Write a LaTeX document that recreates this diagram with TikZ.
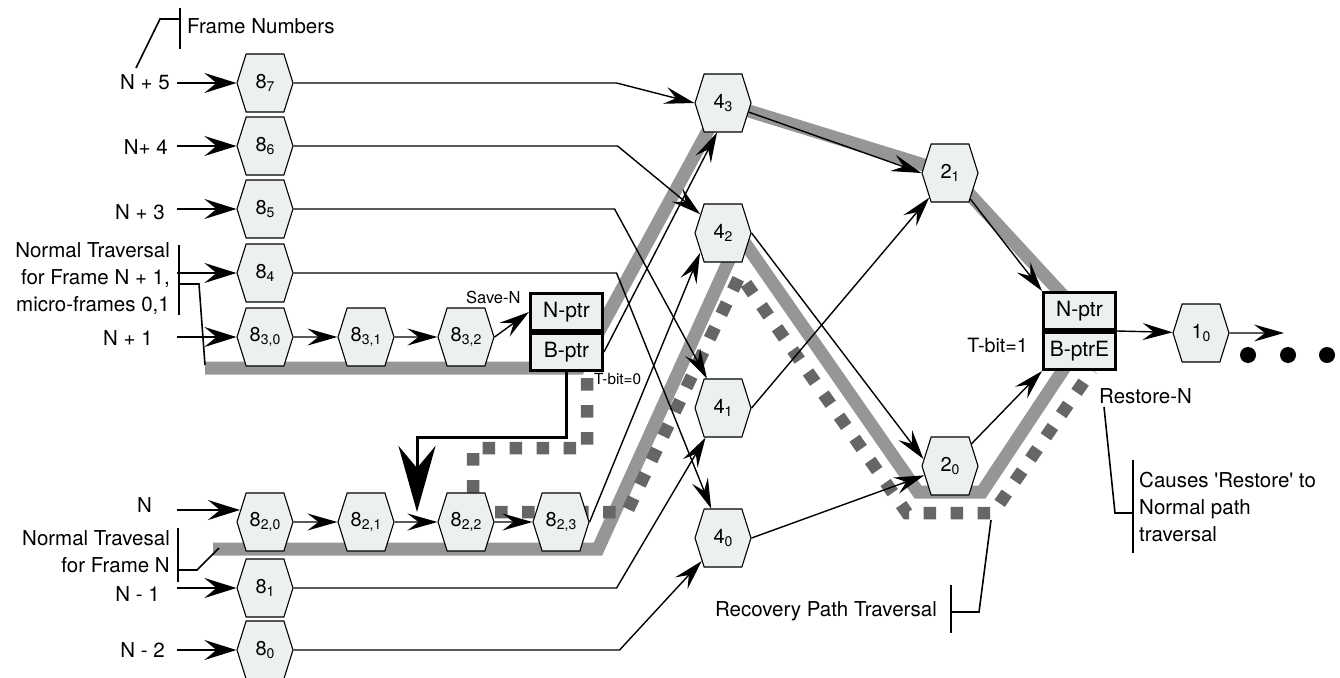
\documentclass[tikz,border=0pt]{standalone}
\usepackage{fontspec}
\setmainfont{TeX Gyre Heros}
\usetikzlibrary{arrows.meta,shapes.symbols,backgrounds,calc}
\definecolor{hexfill}{RGB}{237,240,241}
\definecolor{bandgray}{RGB}{150,150,150}
\definecolor{dotgray}{RGB}{102,102,102}
\newcommand{\hexlab}[2]{#1\raisebox{-0.35ex}{\fontsize{14}{14}\selectfont #2}}

\begin{document}
\begin{tikzpicture}[x=1pt,y=-1pt,
  hexa/.style={signal, signal to=east and west, signal pointer angle=145, draw, line width=1.1pt,
    fill=hexfill, minimum width=56pt, minimum height=58pt, inner sep=0pt, font=\fontsize{20}{20}\selectfont},
  ptrbox/.style={draw, line width=3pt, fill=hexfill, minimum width=72pt, minimum height=37pt,
    inner sep=0pt, font=\fontsize{21}{21}\selectfont},
  lbl/.style={inner sep=0pt, font=\fontsize{20.5}{27}\selectfont},
  conn/.style={line width=1.4pt, -{Stealth[length=30pt,width=17pt,inset=11pt]}},
  inarrow/.style={line width=2pt, -{Stealth[length=32pt,width=20pt,inset=12pt]}},
  jump/.style={line width=3pt, -{Stealth[length=66pt,width=37pt,inset=22pt]}},
  band/.style={line width=13pt, bandgray},
  recov/.style={line width=12.5pt, dotgray, dash pattern=on 12.5pt off 14.5pt},
  lead/.style={line width=1.6pt}]
\useasboundingbox (0,0) rectangle (1340,677);

% stage 8 hexagons
\foreach \nm/\y/\s in {87/83/7,86/146/6,85/209/5,84/273/4,81/588/1,80/650/0}
  \node[hexa] (h\nm) at (265,\y) {\hexlab{8}{\s}};
\foreach \i/\x in {0/265,1/366,2/466}
  \node[hexa] (h83\i) at (\x,337) {\hexlab{8}{3,\i}};
\foreach \i/\x in {0/265,1/366,2/466,3/561}
  \node[hexa] (h82\i) at (\x,522) {\hexlab{8}{2,\i}};
% stage 4, 2, 1
\foreach \i/\y in {3/103,2/233,1/408,0/538}
  \node[hexa] (h4\i) at (723,\y) {\hexlab{4}{\i}};
\node[hexa] (h21) at (950,173) {\hexlab{2}{1}};
\node[hexa] (h20) at (950,466) {\hexlab{2}{0}};
\node[hexa] (h10) at (1201,333) {\hexlab{1}{0}};
\coordinate (dotsEnd) at (1284,333);

% pointer boxes
\node[ptrbox, anchor=south] (nptrL) at (566.5,332) {N-ptr};
\node[ptrbox, anchor=north] (bptrL) at (nptrL.south) {B-ptr};
\node[ptrbox, anchor=south] (nptrR) at (1079.5,331) {N-ptr};
\node[ptrbox, anchor=north] (bptrR) at (nptrR.south) {B-ptrE};

% traversal paths
\begin{scope}[on background layer]
\draw[band] (205,368) -- (579,368) -- (h43.center) -- (h21.center) -- (1081,315);
\draw[band] (213,549) -- (598,549) -- (740,236) -- (918,492) -- (982,492) -- (1071,358);
\draw[recov] (587,378) -- (587,448) -- (473,448) -- (473,512) -- (627,512) -- (740,275)
  -- (907,513) -- (993,513) -- (1092,370);
\end{scope}

% frame labels and inputs
\node[lbl, anchor=east] (lN5) at (170,82) {N + 5};
\node[lbl, anchor=east] (lN4) at (168,147) {N+ 4};
\node[lbl, anchor=east] (lN3) at (165,212) {N + 3};
\node[lbl, anchor=east, align=right] (lTravA) at (170,279) {Normal Traversal\\for Frame N + 1,\\micro-frames 0,1};
\node[lbl, anchor=east] (lN1) at (153,338) {N + 1};
\node[lbl, anchor=east] (lN0) at (152,505) {N};
\node[lbl, anchor=east, align=right] (lTravB) at (170,552) {Normal Travesal\\for Frame N};
\node[lbl, anchor=east] (lNm1) at (160,594) {N - 1};
\node[lbl, anchor=east] (lNm2) at (165,650) {N - 2};
\node[lbl, anchor=west] (lFrames) at (187,26) {Frame Numbers};
\foreach \h in {h87,h86,h85,h84,h830,h81,h80}
  \draw[inarrow] ([xshift=-59pt]\h.west) -- (\h.west);
\draw[inarrow] ([shift={(-59pt,12pt)}]h820.west) -- ([shift={(3.5pt,12pt)}]h820.west);

% micro-frame chains
\draw[conn] (h830) -- (h831);
\draw[conn] (h831) -- (h832);
\draw[conn] (h832.east) -- (nptrL.west);
\draw[conn] (h820) -- (h821);
\draw[conn] (h821) -- (h822);
\draw[conn] (h822) -- (h823);

% stage 8 -> stage 4
\draw[conn] (h87.east) -- +(323,0) -- (h43.west);
\draw[conn] (h86.east) -- +(324,0) -- (h42);
\draw[conn] (h85.east) -- +(321,0) -- (h41);
\draw[conn] (h84.east) -- +(323,0) -- (h40);
\draw[conn] (h81.east) -- +(323,0) -- (h41);
\draw[conn] (h80.east) -- +(326,0) -- (h40);
\draw[conn] (bptrL.east) -- ([xshift=-6pt]h43.south);
\draw[conn] (h823.east) -- ([shift={(-23pt,-20pt)}]h42.center);

% stage 4 -> stage 2 -> 1
\draw[conn] (h43) -- (h21.west);
\draw[conn] (h41.east) -- (h21);
\draw[conn] (h42.east) -- ([shift={(2pt,7pt)}]h20.west);
\draw[conn] (h40.east) -- (h20);
\draw[conn] (h21) -- (nptrR.north west);
\draw[conn] (h20) -- (bptrR.south west);
\draw[conn] (nptrR.south east) -- (h10);
\draw[conn] (h10) -- (dotsEnd);
\foreach \dx in {1248,1288,1327}
  \fill (\dx,355) circle (8pt);

% save / restore
\coordinate (bTip) at (417,512);
\draw[jump] (bptrL.south) -- ++(0,65) -| (bTip);
\node[inner sep=0pt, anchor=west, font=\fontsize{16.5}{16.5}\selectfont] (lSave) at (466,297) {Save-N};
\node[inner sep=0pt, anchor=west, font=\fontsize{15.3}{15.3}\selectfont] (lTbit0) at (594,379) {T-bit=0};
\node[inner sep=0pt, anchor=east, font=\fontsize{19.7}{19.7}\selectfont] (lTbit1) at (1028,345) {T-bit=1};
\node[lbl, anchor=west] (lRestore) at (1099,396) {Restore-N};
\node[lbl, anchor=west, align=left] (lCauses) at (1139,507) {Causes \textquotesingle Restore\textquotesingle{} to\\Normal path\\traversal};
\node[lbl, anchor=east] (lRecov) at (937,611) {Recovery Path Traversal};

% brackets
\draw[lead] (180,8) -- (180,49);
\draw[lead] (180,19) -- (160,19) -- (136,68);
\draw[lead] (179,245) -- (179,315);
\draw[lead] (179,284) -- (199,284) -- (205,365);
\draw[lead] (178,528) -- (178,582);
\draw[lead] (178,570) -- (197,570) -- (219,548);
\draw[lead] (1133,460) -- (1133,553);
\draw[lead] (1104,407) -- (1115,513) -- (1133,513);
\draw[lead] (951,585) -- (951,633);
\draw[lead] (951,612) -- (979,612) -- (991,520);
\end{tikzpicture}
\end{document}
